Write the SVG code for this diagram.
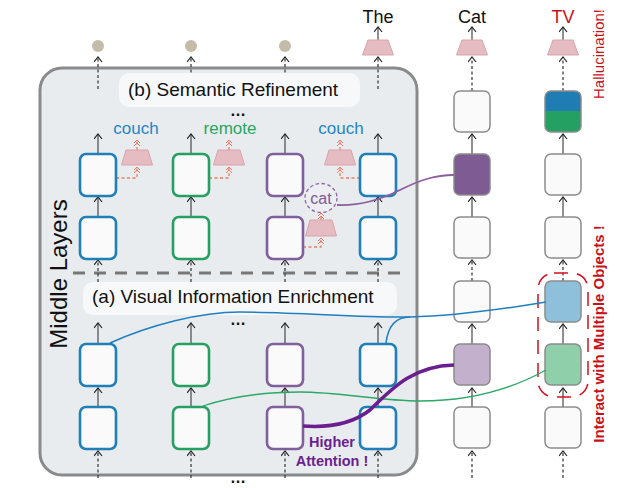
<svg xmlns="http://www.w3.org/2000/svg" width="626" height="488" viewBox="0 0 626 488">
<defs>
<marker id="ah" markerUnits="userSpaceOnUse" markerWidth="8" markerHeight="10" viewBox="0 0 8 10" refX="5.5" refY="4.5" orient="auto">
<path d="M0.5,0.5 L5.5,4.5 L0.5,8.5" fill="none" stroke="#222" stroke-width="1.2"/>
</marker>
<marker id="oh" markerUnits="userSpaceOnUse" markerWidth="9" markerHeight="8" viewBox="-5 -1 9 8" refX="3" refY="3" orient="auto">
<path d="M0,0 L3,3 L0,6 M-3,0 L0,3 L-3,6" fill="none" stroke="#f07c62" stroke-width="1"/>
</marker>
<clipPath id="tvclip"><rect x="545" y="91" width="36" height="41" rx="6"/></clipPath>
</defs>
<style>
text{font-family:"Liberation Sans",Arial,sans-serif}
.bx{fill:#fafafa;stroke-width:2.6}
.b{stroke:#1f7fb6}
.g{stroke:#25a062}
.p{stroke:#80609c}
.rb{stroke:#8c8c8c;stroke-width:1.5}
.sa{stroke:#555;stroke-width:1.3;fill:none;marker-end:url(#ah)}
.da{stroke:#333;stroke-width:1.2;stroke-dasharray:3 2.5;fill:none;marker-end:url(#ah)}
.oa{stroke:#f07c62;stroke-width:1.3;stroke-dasharray:3 2.5;fill:none;marker-end:url(#oh)}
.tz{fill:#e6bcc3;stroke:#d9a3ab;stroke-width:1}
.dot{fill:#c4bba8}
.lbl{fill:#f6f8fa}
.hd{font-size:19px;fill:#111}
.wd{font-size:17px;text-anchor:middle}
.top{font-size:18px;text-anchor:middle}
.dots{font-size:16px;font-weight:bold;text-anchor:middle;fill:#111}
</style>

<g id="panel">
<rect x="40" y="68" width="377" height="407" rx="22" fill="#e9ecef" stroke="#8a8a8a" stroke-width="3"/>
<line x1="73" y1="273" x2="408" y2="273" stroke="#777" stroke-width="3" stroke-dasharray="12 9"/>
</g>

<g id="connectors">
<!-- column 1 -->
<line class="da" x1="98" y1="478" x2="98" y2="451"/>
<line class="sa" x1="98" y1="407" x2="98" y2="388"/>
<line class="sa" x1="98" y1="343" x2="98" y2="323"/>
<line class="da" x1="98" y1="282" x2="98" y2="260"/>
<line class="sa" x1="98" y1="217" x2="98" y2="197"/>
<line class="sa" x1="98" y1="154" x2="98" y2="134"/>
<line class="da" x1="98" y1="89" x2="98" y2="57"/>
<!-- column 2 -->
<line class="da" x1="191" y1="478" x2="191" y2="451"/>
<line class="sa" x1="191" y1="407" x2="191" y2="388"/>
<line class="sa" x1="191" y1="343" x2="191" y2="323"/>
<line class="da" x1="191" y1="282" x2="191" y2="260"/>
<line class="sa" x1="191" y1="217" x2="191" y2="197"/>
<line class="sa" x1="191" y1="154" x2="191" y2="134"/>
<line class="da" x1="191" y1="89" x2="191" y2="57"/>
<!-- column 3 -->
<line class="da" x1="285" y1="478" x2="285" y2="451"/>
<line class="sa" x1="285" y1="407" x2="285" y2="388"/>
<line class="sa" x1="285" y1="343" x2="285" y2="323"/>
<line class="da" x1="285" y1="282" x2="285" y2="260"/>
<line class="sa" x1="285" y1="217" x2="285" y2="197"/>
<line class="sa" x1="285" y1="154" x2="285" y2="134"/>
<line class="da" x1="285" y1="89" x2="285" y2="57"/>
<!-- column 4 -->
<line class="da" x1="378" y1="478" x2="378" y2="451"/>
<line class="sa" x1="378" y1="407" x2="378" y2="388"/>
<line class="sa" x1="378" y1="343" x2="378" y2="323"/>
<line class="da" x1="378" y1="282" x2="378" y2="260"/>
<line class="sa" x1="378" y1="217" x2="378" y2="197"/>
<line class="sa" x1="378" y1="154" x2="378" y2="134"/>
<line class="da" x1="378" y1="89" x2="378" y2="57"/>
<line class="sa" x1="378" y1="40" x2="378" y2="27"/>
<!-- Cat column -->
<line class="da" x1="472" y1="478" x2="472" y2="451"/>
<line class="sa" x1="472" y1="407" x2="472" y2="388"/>
<line class="sa" x1="472" y1="344" x2="472" y2="324"/>
<line class="da" x1="472" y1="281" x2="472" y2="260"/>
<line class="sa" x1="472" y1="217" x2="472" y2="197"/>
<line class="sa" x1="472" y1="154" x2="472" y2="134"/>
<line class="da" x1="472" y1="91" x2="472" y2="57"/>
<line class="sa" x1="472" y1="40" x2="472" y2="27"/>
<!-- TV column -->
<line class="da" x1="563" y1="478" x2="563" y2="451"/>
<line class="sa" x1="563" y1="407" x2="563" y2="388"/>
<line class="sa" x1="563" y1="344" x2="563" y2="324"/>
<line class="da" x1="563" y1="281" x2="563" y2="260"/>
<line class="sa" x1="563" y1="217" x2="563" y2="197"/>
<line class="sa" x1="563" y1="154" x2="563" y2="134"/>
<line class="da" x1="563" y1="91" x2="563" y2="57"/>
<line class="sa" x1="563" y1="40" x2="563" y2="27"/>
<!-- orange projections -->
<path class="oa" d="M116,178 H137 V167"/>
<path class="oa" d="M137,150 V140"/>
<path class="oa" d="M209,178 H229 V167"/>
<path class="oa" d="M229,150 V140"/>
<path class="oa" d="M360,178 H340 V167"/>
<path class="oa" d="M340,150 V140"/>
<path class="oa" d="M303,247 H321 V238"/>
<path class="oa" d="M321,220 V213"/>
</g>

<g id="stage-labels">
<rect class="lbl" x="119" y="73" width="241" height="34" rx="10"/>
<text class="hd" x="128" y="96">(b) Semantic Refinement</text>
<rect class="lbl" x="83" y="282" width="314" height="33" rx="10"/>
<text class="hd" x="92" y="303">(a) Visual Information Enrichment</text>
<text class="dots" x="238" y="116">…</text>
<text class="dots" x="238" y="325">…</text>
<text class="dots" x="238" y="483">…</text>
<text transform="translate(67,274) rotate(-90)" font-size="24" text-anchor="middle" fill="#111">Middle Layers</text>
</g>

<g id="col1">
<circle class="dot" cx="98" cy="46" r="6"/>
<rect class="bx b" x="80" y="154" width="36" height="42" rx="6"/>
<rect class="bx b" x="80" y="217" width="36" height="42" rx="6"/>
<rect class="bx b" x="80" y="344" width="36" height="42" rx="6"/>
<rect class="bx b" x="80" y="407" width="36" height="42" rx="6"/>
<polygon class="tz" points="126,150 148,150 152.5,165 121.5,165"/>
<text class="wd" x="136" y="134" fill="#1f86c4">couch</text>
</g>

<g id="col2">
<circle class="dot" cx="191" cy="46" r="6"/>
<rect class="bx g" x="173" y="154" width="36" height="42" rx="6"/>
<rect class="bx g" x="173" y="217" width="36" height="42" rx="6"/>
<rect class="bx g" x="173" y="344" width="36" height="42" rx="6"/>
<rect class="bx g" x="173" y="407" width="36" height="42" rx="6"/>
<polygon class="tz" points="218,150 240,150 244.5,165 213.5,165"/>
<text class="wd" x="230" y="134" fill="#27a763">remote</text>
</g>

<g id="col3">
<circle class="dot" cx="285" cy="46" r="6"/>
<rect class="bx p" x="267" y="154" width="36" height="42" rx="6"/>
<rect class="bx p" x="267" y="217" width="36" height="42" rx="6"/>
<rect class="bx p" x="267" y="344" width="36" height="42" rx="6"/>
<rect class="bx p" x="267" y="407" width="36" height="42" rx="6"/>
<polygon class="tz" points="310,220 332,220 336.5,236 305.5,236"/>
<ellipse cx="321" cy="198" rx="16" ry="14.5" fill="#eceef1" stroke="#8a66a6" stroke-width="1.3" stroke-dasharray="3.5 2.5"/>
<text x="321" y="204" font-size="16" text-anchor="middle" fill="#7d5a98">cat</text>
</g>

<g id="col4">
<polygon class="tz" points="368,40 388,40 393.5,55 362.5,55"/>
<text class="top" x="378" y="23" fill="#111">The</text>
<rect class="bx b" x="360" y="154" width="36" height="42" rx="6"/>
<rect class="bx b" x="360" y="217" width="36" height="42" rx="6"/>
<rect class="bx b" x="360" y="344" width="36" height="42" rx="6"/>
<rect class="bx b" x="360" y="407" width="36" height="42" rx="6"/>
<polygon class="tz" points="329,150 351,150 355.5,165 324.5,165"/>
<text class="wd" x="341" y="134" fill="#1f86c4">couch</text>
</g>

<g id="cat-column">
<polygon class="tz" points="462,40 482,40 487.5,55 456.5,55"/>
<text class="top" x="472" y="23" fill="#111">Cat</text>
<rect class="rb" fill="#fafafa" x="454" y="91" width="36" height="41" rx="6"/>
<rect class="rb" fill="#7f5b93" x="454" y="154" width="36" height="41" rx="6"/>
<rect class="rb" fill="#fafafa" x="454" y="217" width="36" height="41" rx="6"/>
<rect class="rb" fill="#fafafa" x="454" y="281" width="36" height="41" rx="6"/>
<rect class="rb" fill="#c3b0cc" x="454" y="344" width="36" height="41" rx="6"/>
<rect class="rb" fill="#fafafa" x="454" y="407" width="36" height="41" rx="6"/>
</g>

<g id="tv-column">
<polygon class="tz" points="553,40 573,40 578.5,55 547.5,55"/>
<text class="top" x="563" y="23" fill="#c8101a">TV</text>
<g clip-path="url(#tvclip)">
<rect x="545" y="91" width="36" height="21" fill="#1f7db3"/>
<rect x="545" y="111" width="36" height="21" fill="#23a062"/>
</g>
<rect class="rb" fill="none" x="545" y="91" width="36" height="41" rx="6"/>
<rect class="rb" fill="#fafafa" x="545" y="154" width="36" height="41" rx="6"/>
<rect class="rb" fill="#fafafa" x="545" y="217" width="36" height="41" rx="6"/>
<rect class="rb" fill="#8ec0dc" x="545" y="281" width="36" height="41" rx="6"/>
<rect class="rb" fill="#8fd0aa" x="545" y="344" width="36" height="41" rx="6"/>
<rect class="rb" fill="#fafafa" x="545" y="407" width="36" height="41" rx="6"/>
<rect x="538" y="273" width="50" height="124" rx="16" fill="none" stroke="#d3101c" stroke-width="1.5" stroke-dasharray="14 9"/>
<text transform="translate(604,54) rotate(-90)" font-size="15" text-anchor="middle" fill="#c8101a">Hallucination!</text>
<text transform="translate(604,334) rotate(-90)" font-size="15" font-weight="bold" text-anchor="middle" fill="#c8101a">Interact with Multiple Objects !</text>
</g>

<g id="links">
<path d="M110,343 C150,325 200,312 240,312 C300,312 360,318 410,317 C460,316 510,308 546,302" fill="none" stroke="#1f7fc0" stroke-width="1.5"/>
<path d="M386,343 C388,326 395,317 410,317" fill="none" stroke="#1f7fc0" stroke-width="1.5"/>
<path d="M203,406 C230,397 260,392 300,392 C340,392 380,401 420,401 C470,401 510,390 546,370" fill="none" stroke="#2aa866" stroke-width="1.3"/>
<path d="M337,205 C360,206 380,200 400,190 C420,180 435,175 454,175" fill="none" stroke="#8c5fa0" stroke-width="1.8"/>
<path d="M303,426 C330,428 352,424 370,410 C395,385 415,366 454,365" fill="none" stroke="#6a1f8f" stroke-width="3.5"/>
<text x="332" y="447" font-size="14.5" font-weight="bold" text-anchor="middle" fill="#6a1f8f">Higher</text>
<text x="332" y="466" font-size="14.5" font-weight="bold" text-anchor="middle" fill="#6a1f8f">Attention !</text>
</g>
</svg>
